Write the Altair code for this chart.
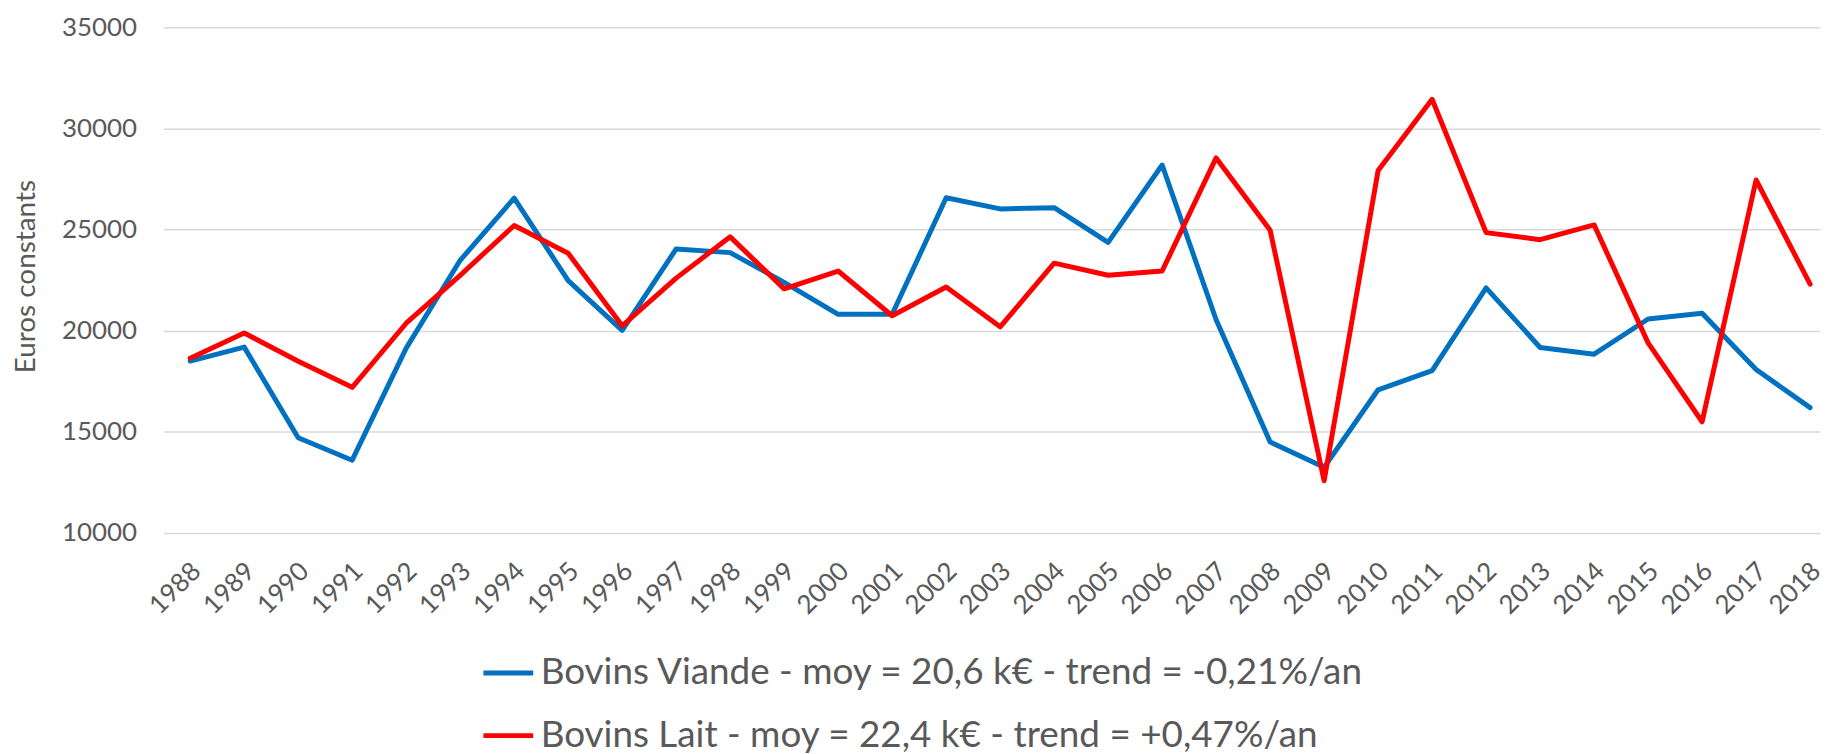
import altair as alt
import pandas as pd

years = ["1988", "1989", "1990", "1991", "1992", "1993", "1994", "1995", "1996", "1997",
         "1998", "1999", "2000", "2001", "2002", "2003", "2004", "2005", "2006", "2007",
         "2008", "2009", "2010", "2011", "2012", "2013", "2014", "2015", "2016", "2017", "2018"]

viande = [18500, 19190, 14710, 13600, 19140, 23480, 26550, 22475, 20015, 24040,
          23860, 22390, 20810, 20810, 26570, 26020, 26080, 24370, 28190, 20540,
          14500, 13250, 17080, 18030, 22120, 19170, 18840, 20580, 20860, 18080, 16200]

lait = [18640, 19890, 18490, 17200, 20370, 22740, 25200, 23830, 20240, 22600,
        24640, 22070, 22950, 20740, 22160, 20190, 23340, 22740, 22950, 28540,
        24970, 12580, 27920, 31440, 24850, 24500, 25230, 19400, 15500, 27450, 22300]

series_names = ["Bovins Viande - moy = 20,6 k\u20ac - trend = -0,21%/an",
                "Bovins Lait - moy = 22,4 k\u20ac - trend = +0,47%/an"]
series_colors = ["#0070C0", "#FF0000"]
y_ticks = [10000, 15000, 20000, 25000, 30000, 35000]

df_v = pd.DataFrame({"annee": years, "valeur": viande, "serie": series_names[0]})
df_l = pd.DataFrame({"annee": years, "valeur": lait, "serie": series_names[1]})

TXT = "#595959"

x_enc = alt.X(
    "annee:O",
    sort=years,
    scale=alt.Scale(type="point", padding=0.341, align=0.73),
    axis=alt.Axis(
        title=None, labelAngle=-45, labelAlign="right", labelBaseline="middle",
        labelFontSize=26, labelColor=TXT, labelPadding=34, labelOffset=6,
        ticks=False, tickSize=0, domain=False, grid=False, labelOverlap=False,
    ),
)
y_enc = alt.Y(
    "valeur:Q",
    scale=alt.Scale(domain=[10000, 35000], nice=False, zero=False),
    axis=alt.Axis(
        title="Euros constants", values=y_ticks, format="d",
        labelFontSize=26, labelColor=TXT, labelPadding=27,
        ticks=False, tickSize=0, domain=False,
        grid=True, gridColor="#D9D9D9", gridWidth=1.5,
        titleFontSize=28, titleColor=TXT, titleFontWeight="normal",
        titleAngle=-90, titleAlign="center", titleBaseline="alphabetic",
        titleX=-129, titleY=250,
    ),
)
color_enc = alt.Color(
    "serie:N",
    scale=alt.Scale(domain=series_names, range=series_colors),
    legend=alt.Legend(
        title=None, orient="none", legendX=319, legendY=621,
        direction="vertical", symbolType="stroke", symbolSize=2500,
        symbolStrokeWidth=5, labelFontSize=37, labelColor=TXT,
        labelOffset=5, rowPadding=17, padding=0, labelLimit=2000,
    ),
)

line_v = alt.Chart(df_v).mark_line(strokeWidth=5, strokeJoin="round", strokeCap="round").encode(
    x=x_enc, y=y_enc, color=color_enc
)
line_l = alt.Chart(df_l).mark_line(strokeWidth=5, strokeJoin="round", strokeCap="round").encode(
    x=x_enc, y=y_enc, color=color_enc
)

chart = alt.layer(line_v, line_l).properties(
    width=1664, height=508,
    padding={"left": 156, "top": 17.7, "right": 8, "bottom": 220},
    autosize=alt.AutoSizeParams(type="none"),
    background="white",
).configure(font="Lato").configure_view(strokeWidth=0)

chart.save("out.html", embed_options={"renderer": "svg", "actions": False})
